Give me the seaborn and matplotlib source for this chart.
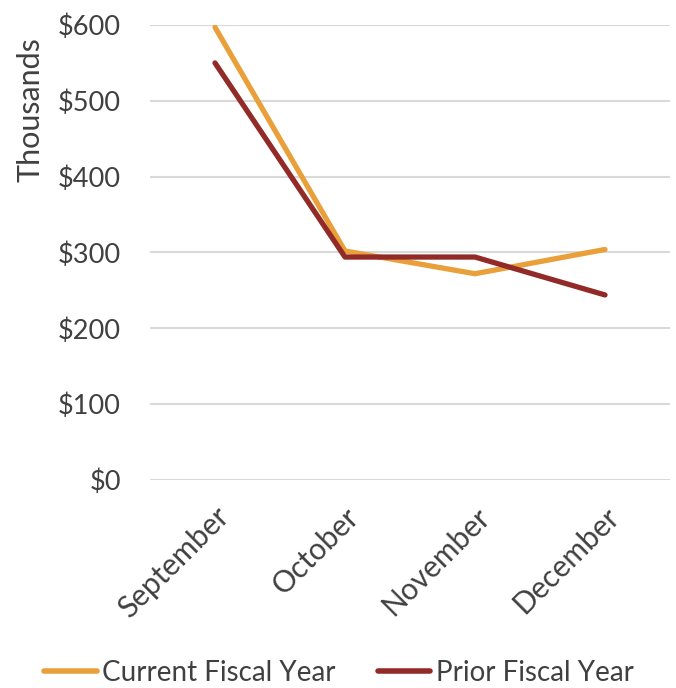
import matplotlib
matplotlib.use("Agg")
import matplotlib.pyplot as plt
import seaborn as sns
import pandas as pd
from matplotlib.ticker import FuncFormatter

months = ["September", "October", "November", "December"]
current = [597, 302, 272, 304]
prior = [550, 294, 294, 244]
series_names = ["Current Fiscal Year", "Prior Fiscal Year"]
colors = ["#E9A03A", "#922B28"]

df = pd.DataFrame({
    "Month": months * 2,
    "Value": current + prior,
    "Series": [series_names[0]] * 4 + [series_names[1]] * 4,
})

sns.set_theme(style="white")
plt.rcParams["font.family"] = ["Lato", "DejaVu Sans"]
txt = "#404040"

fig = plt.figure(figsize=(6.76, 6.88), dpi=100)
ax = fig.add_axes([150/676, 1-480/688, 520/676, 455/688])

sns.lineplot(data=df, x="Month", y="Value", hue="Series", palette=colors,
             linewidth=3.8, ax=ax, sort=False, legend=True)
for ln in ax.get_lines():
    ln.set_solid_capstyle("round")

ax.set_xlim(-0.5, 3.5)
ax.set_ylim(0, 600)
ax.set_yticks(range(0, 601, 100))
ax.yaxis.set_major_formatter(FuncFormatter(lambda v, p: f"${int(v)}"))
ax.grid(axis="y", color="#D9D9D9", linewidth=1.5)
ax.set_axisbelow(True)
for s in ax.spines.values():
    s.set_visible(False)
ax.tick_params(axis="y", length=0, labelsize=19.5, colors=txt, pad=21)
ax.tick_params(axis="x", length=0, labelsize=21.5, colors=txt, pad=16)
ax.set_xlabel("")
ax.set_ylabel("")
fig.text(30/676, 1-110/688, "Thousands", rotation=90, fontsize=22,
         color=txt, ha="center", va="center")
plt.setp(ax.get_xticklabels(), rotation=45, ha="right", rotation_mode="anchor")

leg = ax.legend(loc="center", bbox_to_anchor=(339/676, 1-673/688),
                bbox_transform=fig.transFigure,
                ncol=2, frameon=False, fontsize=20, handlelength=1.9,
                handletextpad=0.2, columnspacing=1.5, labelcolor=txt,
                borderpad=0, borderaxespad=0)
for h in leg.legend_handles:
    h.set_linewidth(4)
    h.set_solid_capstyle("round")

fig.savefig("out.png", dpi=100)
